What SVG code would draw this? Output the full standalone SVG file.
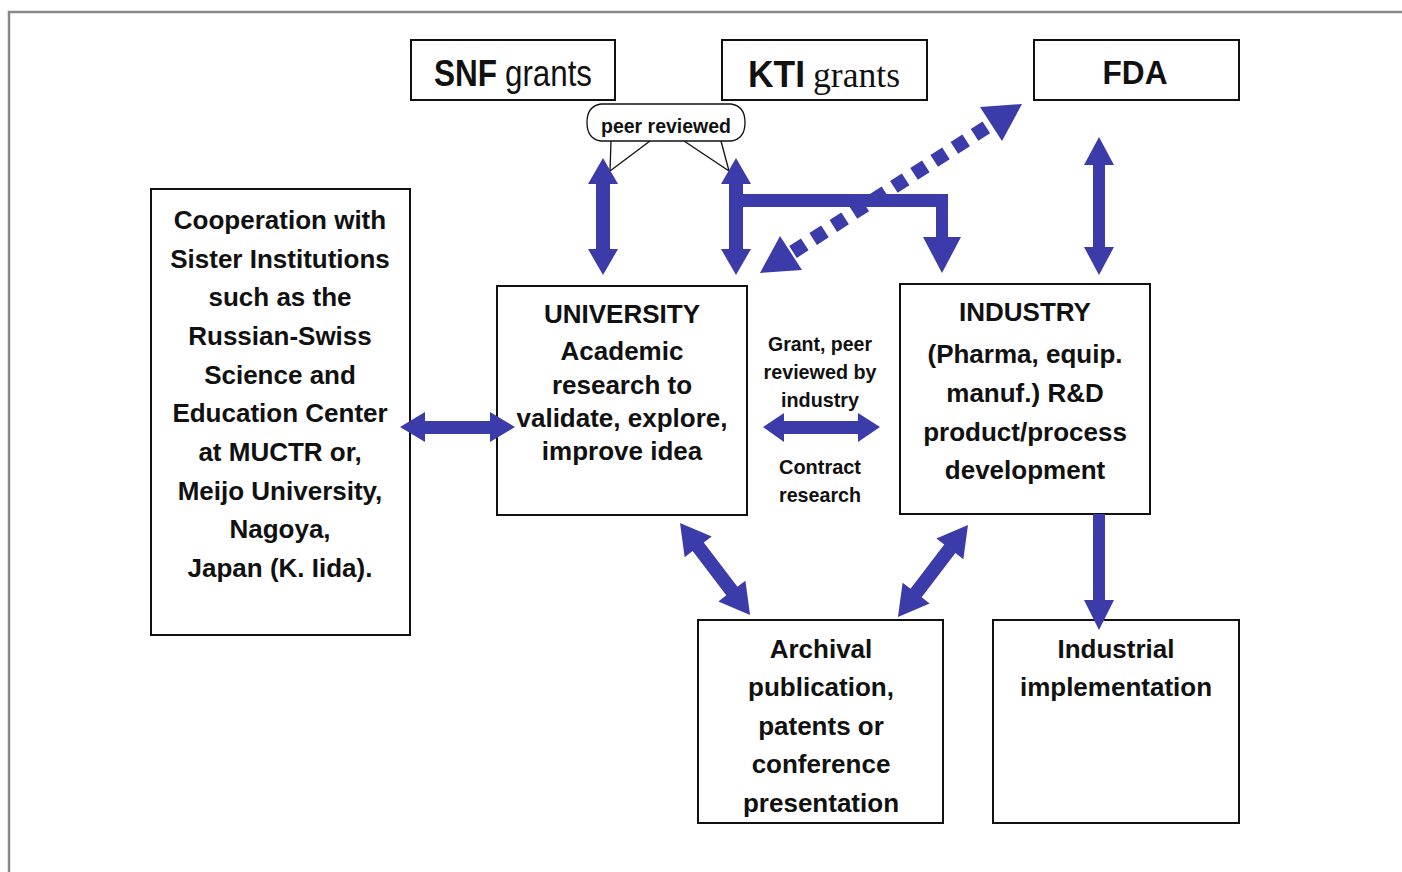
<svg xmlns="http://www.w3.org/2000/svg" width="1402" height="872" viewBox="0 0 1402 872">
<style>
.box{fill:#fff;stroke:#111;stroke-width:2}
.t{font-family:"Liberation Sans",Arial,sans-serif;font-weight:bold;font-size:26px;fill:#111;text-anchor:middle}
.s{font-family:"Liberation Sans",Arial,sans-serif;font-weight:bold;font-size:21px;fill:#111;text-anchor:middle}
.h{font-family:"Liberation Sans",Arial,sans-serif;font-size:36px;fill:#111}
.arr{fill:#3b3baa}
.ptr{stroke:#111;stroke-width:1.3;fill:none}
</style>
<rect width="1402" height="872" fill="#fff"/>
<path d="M9,872 V12 H1402" fill="none" stroke="#888" stroke-width="2.5"/>

<g id="snf">
<rect class="box" x="411" y="40" width="204" height="60"/>
<text class="h" x="434" y="86" font-weight="bold" textLength="63" lengthAdjust="spacingAndGlyphs">SNF</text>
<text class="h" x="505" y="86" textLength="87" lengthAdjust="spacingAndGlyphs">grants</text>
</g>
<g id="kti">
<rect class="box" x="722" y="40" width="205" height="60"/>
<text class="h" x="748" y="87" font-weight="bold" textLength="57" lengthAdjust="spacingAndGlyphs">KTI</text>
<text x="813" y="87" font-family="'Liberation Serif','Times New Roman',serif" font-size="36" fill="#111" textLength="87" lengthAdjust="spacingAndGlyphs">grants</text>
</g>
<g id="fda">
<rect class="box" x="1034" y="40" width="205" height="60"/>
<text x="1135" y="84" font-family="'Liberation Sans',Arial,sans-serif" font-weight="bold" font-size="34" fill="#111" text-anchor="middle" textLength="65" lengthAdjust="spacingAndGlyphs">FDA</text>
</g>

<g id="peer-reviewed">
<line class="ptr" x1="611" y1="141" x2="610" y2="171"/>
<line class="ptr" x1="650" y1="141" x2="610" y2="171"/>
<line class="ptr" x1="684" y1="141" x2="729" y2="171"/>
<line class="ptr" x1="721" y1="141" x2="729" y2="171"/>
<path d="M601,104 H731 Q745,106 745,122.5 Q745,139 731,141 H601 Q587,139 587,122.5 Q587,106 601,104 Z" fill="#fff" stroke="#111" stroke-width="1.3"/>
<text class="s" x="666" y="133" textLength="130" lengthAdjust="spacingAndGlyphs">peer reviewed</text>
</g>

<g id="cooperation">
<rect class="box" x="151" y="189" width="259" height="446"/>
<text class="t" x="280" y="229">Cooperation with</text>
<text class="t" x="280" y="268">Sister Institutions</text>
<text class="t" x="280" y="306">such as the</text>
<text class="t" x="280" y="345">Russian-Swiss</text>
<text class="t" x="280" y="384">Science and</text>
<text class="t" x="280" y="422">Education Center</text>
<text class="t" x="280" y="461">at MUCTR or,</text>
<text class="t" x="280" y="500">Meijo University,</text>
<text class="t" x="280" y="538">Nagoya,</text>
<text class="t" x="280" y="577">Japan (K. Iida).</text>
</g>

<g id="university">
<rect class="box" x="497" y="286" width="250" height="229"/>
<text class="t" x="622" y="323">UNIVERSITY</text>
<text class="t" x="622" y="360">Academic</text>
<text class="t" x="622" y="394">research to</text>
<text class="t" x="622" y="427">validate, explore,</text>
<text class="t" x="622" y="460">improve idea</text>
</g>

<g id="industry">
<rect class="box" x="900" y="284" width="250" height="230"/>
<text class="t" x="1025" y="321">INDUSTRY</text>
<text class="t" x="1025" y="363">(Pharma, equip.</text>
<text class="t" x="1025" y="402">manuf.) R&amp;D</text>
<text class="t" x="1025" y="441">product/process</text>
<text class="t" x="1025" y="479">development</text>
</g>

<g id="archival">
<rect class="box" x="698" y="620" width="245" height="203"/>
<text class="t" x="821" y="658">Archival</text>
<text class="t" x="821" y="696">publication,</text>
<text class="t" x="821" y="735">patents or</text>
<text class="t" x="821" y="773">conference</text>
<text class="t" x="821" y="812">presentation</text>
</g>

<g id="implementation">
<rect class="box" x="993" y="620" width="246" height="203"/>
<text class="t" x="1116" y="658">Industrial</text>
<text class="t" x="1116" y="696">implementation</text>
</g>

<g id="link-label">
<text class="s" x="820" y="351" font-size="22" textLength="104" lengthAdjust="spacingAndGlyphs">Grant, peer</text>
<text class="s" x="820" y="379" font-size="22" textLength="113" lengthAdjust="spacingAndGlyphs">reviewed by</text>
<text class="s" x="820" y="407" font-size="22" textLength="78" lengthAdjust="spacingAndGlyphs">industry</text>
<text class="s" x="820" y="474" font-size="22" textLength="82" lengthAdjust="spacingAndGlyphs">Contract</text>
<text class="s" x="820" y="502" font-size="22" textLength="82" lengthAdjust="spacingAndGlyphs">research</text>
</g>

<g id="connectors">
<polygon class="arr" points="603,158 618,184 610,184 610,249 618,249 603,275 588,249 596,249 596,184 588,184"/>
<polygon class="arr" points="736,158 751,184 743,184 743,249 751,249 736,275 721,249 729,249 729,184 721,184"/>
<path class="arr" d="M743,194 H948 V237 H961 L942,273 L923,237 H936 V207 H743 Z"/>
<polygon class="arr" points="1099,137 1114,165 1105,165 1105,247 1114,247 1099,275 1084,247 1093,247 1093,165 1084,165"/>
<line x1="793" y1="252" x2="990" y2="125" stroke="#3b3baa" stroke-width="14" stroke-dasharray="14 10"/>
<polygon class="arr" points="760,273 780,236 802,270"/>
<polygon class="arr" points="1022,104 980,107 1002,141"/>
<polygon class="arr" points="400,427 425,412 425,421 490,421 490,412 515,427 490,442 490,434 425,434 425,442"/>
<polygon class="arr" points="763,427 784,413 784,421 858,421 858,413 880,427 858,442 858,434 784,434 784,442"/>
<polygon class="arr" transform="translate(680,523) rotate(52.7)" points="0,0 30,-17 30,-7 85.6,-7 85.6,-17 115.6,0 85.6,17 85.6,7 30,7 30,17"/>
<polygon class="arr" transform="translate(968,525) rotate(127.3)" points="0,0 30,-17 30,-7 85.6,-7 85.6,-17 115.6,0 85.6,17 85.6,7 30,7 30,17"/>
<polygon class="arr" points="1093,514 1105,514 1105,600 1114,600 1099,630 1084,600 1093,600"/>
</g>
</svg>
